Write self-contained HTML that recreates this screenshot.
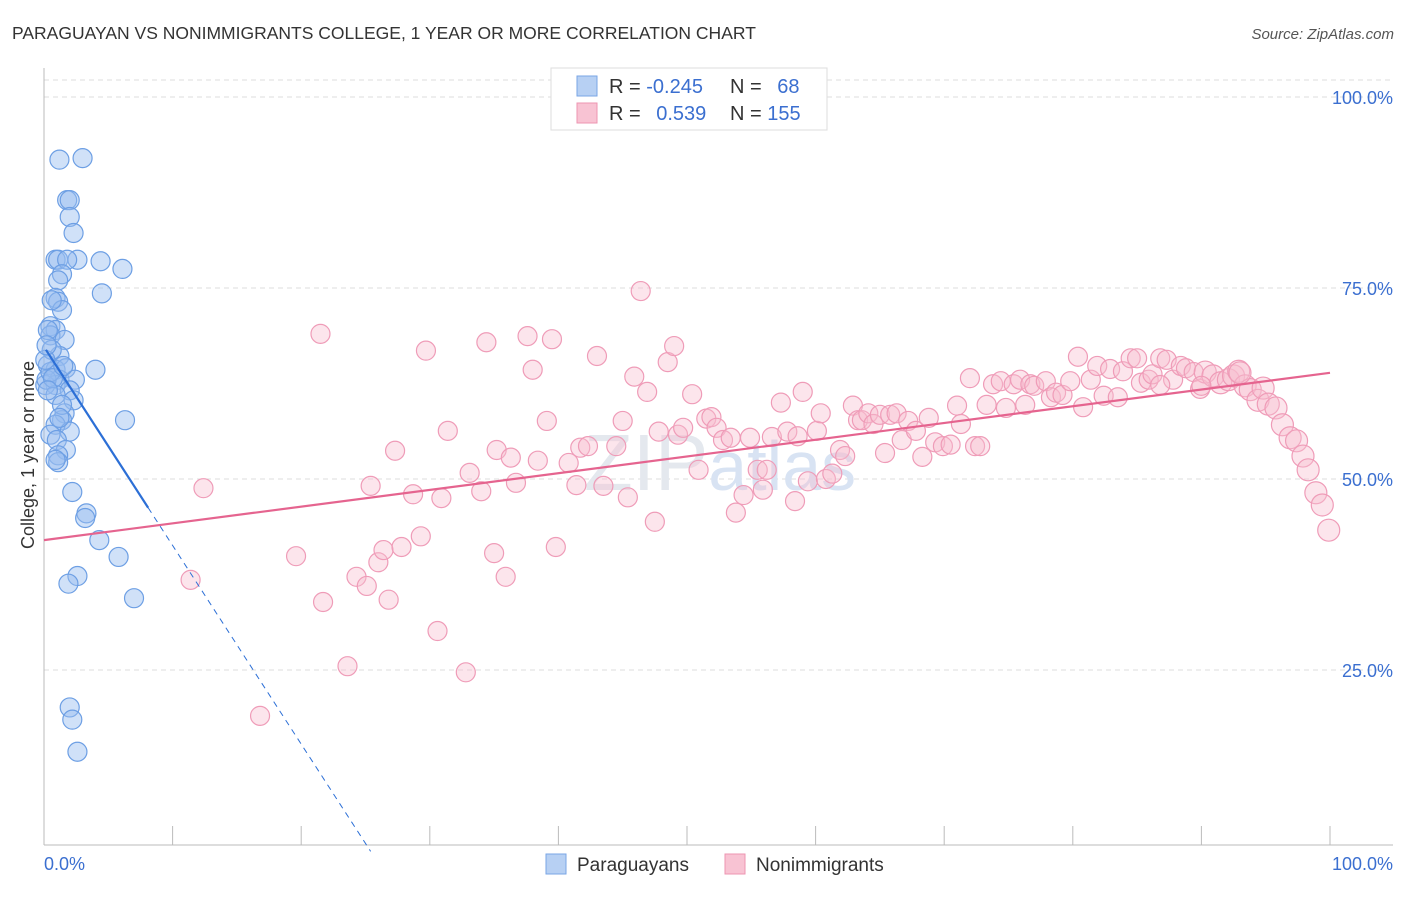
<!DOCTYPE html>
<html><head><meta charset="utf-8"><style>
body{margin:0;background:#fff;font-family:"Liberation Sans",sans-serif}
svg text{font-family:"Liberation Sans",sans-serif}
</style></head><body>
<svg id="c" width="1406" height="892" xmlns="http://www.w3.org/2000/svg">
<text x="12" y="39" font-size="17.5" fill="#333">PARAGUAYAN VS NONIMMIGRANTS COLLEGE, 1 YEAR OR MORE CORRELATION CHART</text>
<text x="1394" y="39" font-size="15" fill="#555" font-style="italic" text-anchor="end">Source: ZipAtlas.com</text>
<g id="grid"></g>
<text x="720" y="490" font-size="80" fill="#e4e8ee" text-anchor="middle" font-family="Liberation Serif">ZIP<tspan fill="#d8e3f3" font-family="Liberation Sans" font-size="70">atlas</tspan></text>
<g id="axes"></g>
<g id="pts"></g>
<g id="trends"></g>
<text transform="translate(34,455) rotate(-90)" font-size="18" fill="#333" text-anchor="middle">College, 1 year or more</text>
<g>
<rect x="551" y="68" width="276" height="62" fill="#fff" stroke="#ddd"/>
<rect x="577" y="76" width="20" height="20" fill="#b7d0f3" stroke="#7aa6e6"/>
<rect x="577" y="103" width="20" height="20" fill="#f8c3d3" stroke="#ee95b2"/>
<text x="609" y="93" font-size="20" fill="#333">R = <tspan fill="#3b6fd0">-0.245</tspan></text>
<text x="730" y="93" font-size="20" fill="#333">N = <tspan fill="#3b6fd0" dx="10">68</tspan></text>
<text x="609" y="120" font-size="20" fill="#333">R = <tspan fill="#3b6fd0" dx="10">0.539</tspan></text>
<text x="730" y="120" font-size="20" fill="#333">N = <tspan fill="#3b6fd0">155</tspan></text>
</g>
<g>
<rect x="546" y="854" width="20" height="20" fill="#b7d0f3" stroke="#7aa6e6"/>
<text x="577" y="871" font-size="19" fill="#333">Paraguayans</text>
<rect x="725" y="854" width="20" height="20" fill="#f8c3d3" stroke="#ee95b2"/>
<text x="756" y="871" font-size="19" fill="#333">Nonimmigrants</text>
</g>
</svg>
<script>
const blueX=[1.2,3.0,1.8,2.0,2.0,2.3,2.6,0.9,1.1,1.8,4.4,6.1,4.5,1.4,1.1,0.9,1.1,1.4,0.5,0.9,0.5,1.6,1.2,0.3,0.9,1.7,1.2,0.9,2.4,2.0,4.0,2.3,1.6,1.4,6.3,0.9,0.5,2.0,1.0,1.7,1.1,1.1,2.2,3.3,3.2,4.3,5.8,2.6,1.9,7.0,2.0,2.2,2.6,0.1,0.2,0.5,0.3,0.6,0.1,0.9,1.4,0.6,0.2,0.7,1.2,0.9,0.3,1.5];
const blueY=[91.8,92.0,86.5,86.5,84.3,82.2,78.7,78.7,78.7,78.7,78.5,77.5,74.3,76.8,76.0,73.7,73.2,72.1,70.0,69.5,68.8,68.2,66.1,64.9,64.3,64.5,63.0,62.3,63.0,61.6,64.3,60.3,58.6,57.7,57.7,57.1,55.8,56.2,55.1,53.8,53.1,52.2,48.3,45.5,44.9,42.0,39.8,37.3,36.3,34.4,20.1,18.5,14.3,62.3,63.0,64.0,69.5,66.9,65.6,61.0,59.7,73.4,67.5,63.2,58.0,52.5,61.6,64.8];
const pinkX=[12.4,11.4,16.8,19.6,21.5,21.7,23.6,24.3,25.1,25.4,26.0,26.4,26.8,27.3,27.8,28.7,29.3,29.7,30.6,30.9,31.4,32.8,33.1,34.0,34.4,35.0,35.2,35.9,36.3,36.7,37.6,38.0,38.4,39.1,39.5,39.8,40.8,41.4,41.7,42.3,43.0,43.5,44.5,45.0,45.4,45.9,46.4,46.9,47.5,47.8,48.5,49.0,49.3,49.7,50.4,50.9,51.5,51.9,52.3,52.8,53.4,53.8,54.4,54.9,55.5,55.9,56.2,56.6,57.3,57.8,58.4,58.6,59.0,59.4,60.1,60.4,60.8,61.3,61.9,62.3,62.9,63.3,63.6,64.1,64.5,65.0,65.4,65.8,66.3,66.7,67.2,67.8,68.3,68.8,69.3,69.9,70.5,71.0,71.3,72.0,72.4,72.8,73.3,73.8,74.4,74.8,75.4,75.9,76.3,76.7,77.0,77.9,78.3,78.7,79.2,79.8,80.4,80.8,81.4,81.9,82.4,82.9,83.5,83.9,84.5,85.0,85.3,85.9,86.2,86.8,87.3,87.8,88.4,88.8,89.4,89.9,90.3,90.9,91.5,92.1,92.5,92.9,93.4,93.8,94.4,94.8,95.2,95.8,96.3,96.9,97.4,97.9,98.3,98.9,99.4,99.9,93.0,90.0,86.8];
const pinkY=[48.8,36.8,19.0,39.9,69.0,33.9,25.5,37.2,36.0,49.1,39.1,40.7,34.2,53.7,41.1,48.0,42.5,66.8,30.1,47.5,56.3,24.7,50.8,48.4,67.9,40.3,53.8,37.2,52.8,49.5,68.7,64.3,52.4,57.6,68.3,41.1,52.1,49.2,54.1,54.3,66.1,49.1,54.3,57.6,47.6,63.4,74.6,61.4,44.4,56.2,65.3,67.4,55.8,56.7,61.1,51.2,57.9,58.1,56.7,55.1,55.4,45.6,47.9,55.4,51.2,48.6,51.2,55.5,60.0,56.2,47.1,55.6,61.4,49.7,56.3,58.6,50.0,50.7,53.8,53.0,59.6,57.7,57.7,58.6,57.2,58.4,53.4,58.4,58.6,55.1,57.6,56.3,52.9,58.0,54.8,54.3,54.5,59.6,57.2,63.2,54.3,54.3,59.7,62.4,62.8,59.3,62.4,63.0,59.7,62.4,62.2,62.8,60.7,61.3,61.0,62.8,66.0,59.4,63.0,64.8,60.9,64.4,60.7,64.1,65.8,65.8,62.6,63.0,63.7,65.8,65.6,63.0,64.8,64.5,64.0,61.8,64.0,63.5,62.6,63.0,63.5,64.1,62.2,61.7,60.3,61.9,59.8,59.3,57.1,55.4,55.0,53.0,51.2,48.2,46.6,43.3,63.9,62.2,62.3];
const yTicks=[25,50,75,100];
const yTickLabels=["25.0%","50.0%","75.0%","100.0%"];
const xTicks=[0,10,20,30,40,50,60,70,80,90,100];
const blueTrend={b:67.3,m:-2.6,solidEnd:8.1,dashEnd:25.4};
const pinkTrend={b:42.0,m:0.219};
const NS="http://www.w3.org/2000/svg";
const sx=v=>44+v*12.86, sy=v=>861-v*7.64;
function mk(t,a,p){const e=document.createElementNS(NS,t);for(const k in a)e.setAttribute(k,a[k]);p.appendChild(e);return e;}
const grid=document.getElementById('grid'),axes=document.getElementById('axes'),pts=document.getElementById('pts'),tr=document.getElementById('trends');
yTicks.forEach((v,i)=>{
 const l=mk('line',{x1:44,x2:1393,y1:sy(v),y2:sy(v),stroke:'#ddd','stroke-dasharray':'5,4'},grid);
 
 
 const t=mk('text',{x:1393,y:sy(v)+7,'font-size':18,fill:'#3b6fd0','text-anchor':'end'},axes);
 t.textContent=yTickLabels[i];
 
 
});
mk('line',{x1:44,x2:1393,y1:845,y2:845,stroke:'#bbb'},axes);
mk('line',{x1:44,x2:44,y1:68,y2:845,stroke:'#bbb'},axes);
mk('line',{x1:44,x2:1393,y1:80,y2:80,stroke:'#ddd','stroke-dasharray':'5,4'},grid);
xTicks.forEach(v=>{const l=mk('line',{x1:sx(v),x2:sx(v),y1:826,y2:845,stroke:'#bbb'},axes);
 
 });
let t0=mk('text',{x:44,y:870,'font-size':18,fill:'#3b6fd0'},axes);t0.textContent='0.0%';


let t1=mk('text',{x:1393,y:870,'font-size':18,fill:'#3b6fd0','text-anchor':'end'},axes);t1.textContent='100.0%';


blueX.forEach((x,i)=>{const c=mk('circle',{cx:sx(x),cy:sy(blueY[i]),r:9.5,fill:'rgba(150,188,240,0.45)',stroke:'#6d9fe4','stroke-width':1.2},pts);
 
 });
pinkX.forEach((x,i)=>{const c=mk('circle',{cx:sx(x),cy:sy(pinkY[i]),r:x>90?11:9.5,fill:'rgba(248,190,208,0.4)',stroke:'#ef9cb8','stroke-width':1.2},pts);
 
 });
const bf=x=>blueTrend.b+blueTrend.m*x, pf=x=>pinkTrend.b+pinkTrend.m*x;
let a=mk('line',{x1:sx(0.15),y1:sy(bf(0.15)),x2:sx(blueTrend.solidEnd),y2:sy(bf(blueTrend.solidEnd)),stroke:'#2c6fd6','stroke-width':2.2},tr);


let b=mk('line',{x1:sx(blueTrend.solidEnd),y1:sy(bf(blueTrend.solidEnd)),x2:sx(blueTrend.dashEnd),y2:sy(bf(blueTrend.dashEnd)),stroke:'#2c6fd6','stroke-width':1,'stroke-dasharray':'6,5'},tr);


let p=mk('line',{x1:sx(0),y1:sy(pf(0)),x2:sx(100),y2:sy(pf(100)),stroke:'#e5648f','stroke-width':2.2},tr);


</script>
</body></html>
